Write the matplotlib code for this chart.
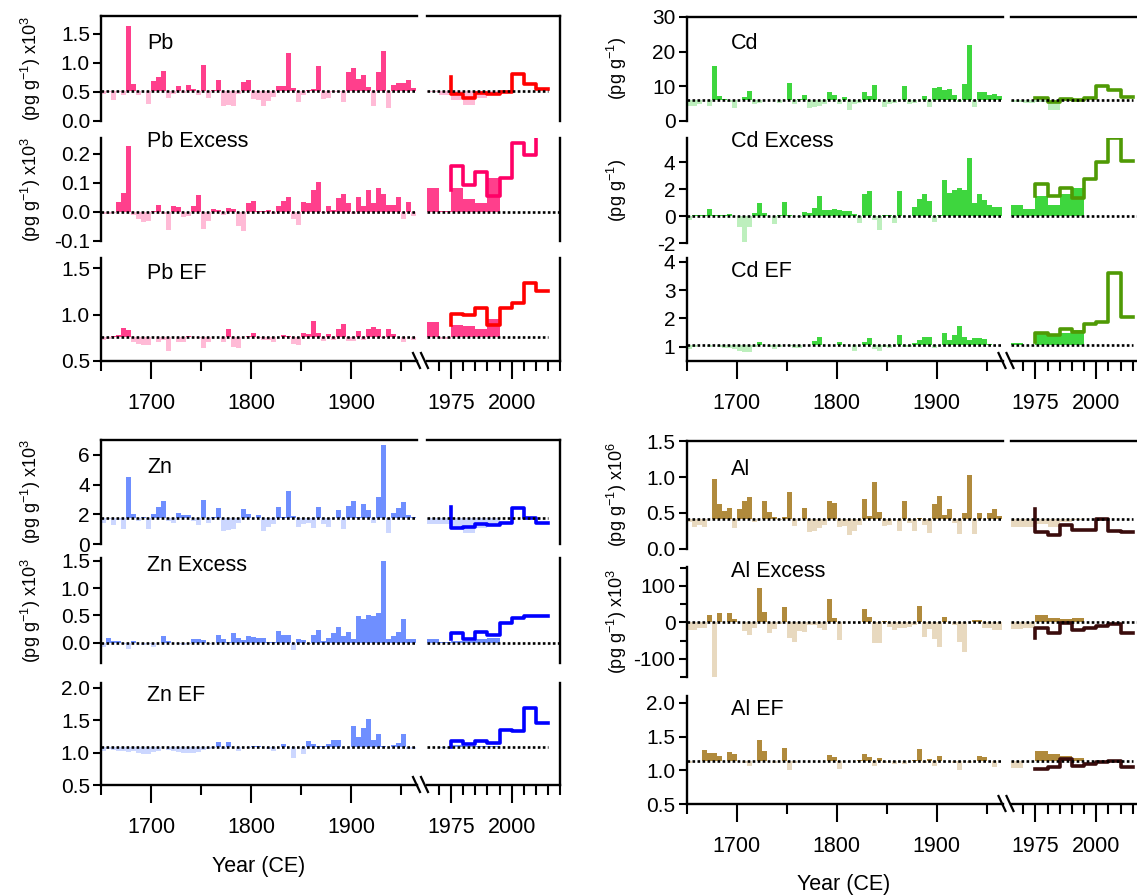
import matplotlib.pyplot as plt
from matplotlib.lines import Line2D
from matplotlib.ticker import FormatStrFormatter, FixedLocator
import numpy as np

plt.rcParams['font.family'] = ['Liberation Sans', 'DejaVu Sans']
plt.rcParams['mathtext.default'] = 'regular'
plt.rcParams['axes.unicode_minus'] = False

# sample intervals (5 yr), shared by every element
hist_start = np.arange(1650, 1965, 5)     # 63 intervals, 1650-1965
recent_start = np.arange(1965, 1995, 5)   # 6 intervals, 1965-1995
step_years = np.arange(1975, 2020, 5)     # step outline 1975-2015

# ---------------- Pb ----------------
pb_base, pbex_base, pbef_base = 0.51, 0.0, 0.76
pb = [0.46, 0.50, 0.36, 0.50, 0.45, 1.63, 0.64, 0.44, 0.52, 0.30, 0.69, 0.76, 0.87, 0.40, 0.46, 0.61,
      0.49, 0.62, 0.55, 0.45, 0.97, 0.40, 0.53, 0.71, 0.26, 0.28, 0.26, 0.46, 0.68, 0.71, 0.38, 0.36,
      0.25, 0.34, 0.41, 0.61, 0.61, 1.18, 0.57, 0.32, 0.45, 0.53, 0.55, 0.95, 0.38, 0.40, 0.50, 0.50,
      0.32, 0.85, 0.92, 0.73, 0.80, 0.59, 0.26, 0.84, 1.20, 0.23, 0.62, 0.65, 0.65, 0.71, 0.57]
pb_ex = [-0.007, -0.007, -0.005, 0.033, 0.066, 0.226, -0.01, -0.025, -0.035, -0.03, 0.005, 0.024,
         -0.007, -0.062, 0.02, 0.016, -0.018, -0.013, 0.02, 0.06, -0.059, -0.032, 0.01, 0.007, -0.01,
         0.014, 0.01, -0.047, -0.064, 0.03, 0.037, 0.005,
         0.002, 0.007, -0.007, 0.02, 0.039, 0.05, -0.024, -0.044, 0.036, 0.03, 0.077, 0.102, -0.002,
         0.02, 0.007, 0.048, 0.062, 0.03, -0.007, 0.053, 0.022, 0.076, 0.03, 0.083, 0.062, 0.025,
         0.025, 0.053, -0.024, 0.036, -0.013]
pb_ef = [0.73, 0.74, 0.77, 0.78, 0.86, 0.83, 0.71, 0.68, 0.67, 0.67, 0.76, 0.71, 0.73, 0.61, 0.76, 0.70,
         0.71, 0.77, 0.76, 0.75, 0.64, 0.70, 0.76, 0.76, 0.70, 0.84, 0.65, 0.64, 0.76, 0.77, 0.80, 0.75,
         0.73, 0.73, 0.70, 0.76, 0.78, 0.77, 0.68, 0.67, 0.80, 0.79, 0.93, 0.80, 0.72, 0.79, 0.73, 0.84,
         0.90, 0.72, 0.72, 0.82, 0.73, 0.84, 0.87, 0.85, 0.75, 0.84, 0.79, 0.76, 0.70, 0.76, 0.73]
pb_recent = [0.50, 0.45, 0.36, 0.28, 0.40, 0.45]
pb_ex_recent = [0.081, 0.003, 0.081, 0.046, 0.031, 0.117]
pb_ef_recent = [0.92, 0.74, 0.89, 0.875, 0.85, 0.95]
pb_step = [0.76, 0.47, 0.39, 0.48, 0.47, 0.505, 0.81, 0.64, 0.55]
pb_ex_step = [0.075, 0.159, 0.092, 0.138, 0.055, 0.117, 0.238, 0.198, 0.30]
pb_ef_step = [0.89, 1.01, 1.00, 1.07, 0.89, 1.07, 1.12, 1.34, 1.25]

# ---------------- Cd ----------------
cd_base, cdex_base, cdef_base = 6.1, 0.0, 1.07
cd = [4.4, 4.2, 5.0, 6.0, 4.4, 15.9, 7.1, 6.3, 5.6, 3.7, 6.0, 7.0, 8.7, 4.9, 5.3, 6.2,
      6.0, 6.1, 5.3, 6.0, 10.9, 5.0, 6.3, 7.5, 3.7, 4.1, 4.4, 4.9, 8.4, 7.4, 5.0, 6.8,
      3.1, 4.9, 5.3, 8.5, 7.3, 10.3, 6.0, 3.9, 5.0, 5.3, 6.2, 10.0, 4.9, 5.3, 6.0, 7.3,
      3.9, 9.5, 9.8, 8.9, 9.2, 7.5, 5.6, 10.6, 22.0, 4.1, 8.5, 8.5, 7.5, 7.7, 7.3]
cd_ex = [-0.3, 0.1, 0.05, 0.05, 0.54, 0.1, 0.05, 0.1, 0.17, 0.0, -0.8, -1.9, -0.8, 0.25, 0.96, 0.25,
         0.0, -0.6, 0.05, 1.04, 0.05, 0.0, -0.05, 0.3, 0.25, 0.6, 1.46, 0.42, 0.42, 0.54, 0.42, 0.37,
         0.37, 0.17, -0.52, 1.6, 1.85, -0.3, -1.0, 0.05, 0.05, -0.52, 1.85, 0.0, 0.0, 0.67, 1.23, 1.65,
         1.09, -0.44, 0.05, 2.7, 1.73, 1.95, 2.1, 1.9, 4.3, 0.96, 1.65, 1.16, 0.84, 0.67, 0.67]
cd_ef = [0.93, 0.99, 1.05, 1.05, 0.99, 1.08, 0.99, 0.95, 0.95, 0.93, 0.85, 0.81, 0.81, 1.0, 1.16, 1.05,
         0.99, 0.91, 0.99, 1.07, 1.03, 0.95, 0.95, 1.07, 1.05, 1.22, 1.36, 1.08, 1.05, 1.07, 1.16, 1.05,
         1.05, 0.87, 1.05, 1.16, 1.32, 0.93, 0.85, 0.99, 0.95, 1.07, 1.40, 0.99, 1.0, 1.13, 1.25, 1.36,
         1.34, 0.96, 1.07, 1.48, 1.25, 1.40, 1.72, 1.36, 1.25, 1.32, 1.32, 1.29, 1.1, 1.07, 1.07]
cd_recent = [5.5, 5.3, 5.6, 3.2, 5.8, 6.0]
cd_ex_recent = [0.85, 0.49, 1.46, 0.85, 1.63, 2.07]
cd_ef_recent = [1.14, 1.07, 1.47, 1.43, 1.47, 1.59]
cd_step = [6.5, 6.5, 5.4, 6.3, 6.05, 6.7, 10.2, 8.9, 7.0]
cd_ex_step = [1.46, 2.39, 1.46, 2.07, 1.34, 2.73, 3.98, 5.8, 4.07]
cd_ef_step = [1.18, 1.47, 1.41, 1.62, 1.53, 1.80, 1.86, 3.59, 2.06]

# ---------------- Zn ----------------
zn_base, znex_base, znef_base = 1.78, 0.0, 1.09
zn = [1.40, 1.67, 1.26, 1.60, 1.04, 4.48, 2.05, 1.56, 1.8, 1.04, 2.0, 2.52, 2.9, 1.56, 1.40, 2.07,
      1.94, 1.94, 1.56, 1.26, 2.97, 1.44, 1.8, 2.45, 0.88, 0.95, 1.04, 1.40, 2.34, 2.0, 1.75, 1.94,
      0.88, 1.17, 1.33, 2.5, 1.8, 3.58, 1.89, 1.17, 1.33, 1.40, 1.11, 2.52, 1.33, 1.15, 1.75, 2.27,
      1.0, 2.57, 2.9, 1.8, 2.72, 2.3, 1.44, 3.13, 6.66, 0.72, 2.07, 2.41, 2.84, 1.94, 1.85]
zn_ex = [-0.07, 0.08, 0.04, 0.04, -0.03, -0.11, 0.03, -0.01, -0.05, -0.03, -0.07, 0.0, 0.13, 0.04, 0.0,
         -0.03, -0.05, -0.03, 0.06, 0.06, 0.05, -0.03, 0.0, 0.14, 0.06, 0.02, 0.18, 0.08, 0.05, 0.12,
         0.10, 0.09,
         0.09, 0.02, 0.02, 0.21, 0.14, 0.15, -0.14, 0.07, 0.05, -0.03, 0.14, 0.23, 0.04, 0.08, 0.18,
         0.29, 0.13, 0.2, 0.06, 0.49, 0.44, 0.50, 0.49, 0.54, 1.49, 0.06, 0.12, 0.2, 0.43, 0.06, 0.06]
zn_ef = [1.03, 1.05, 1.04, 1.02, 1.02, 1.01, 1.02, 1.0, 0.98, 0.97, 1.01, 1.02, 1.08, 1.04, 1.02, 1.01,
         1.0, 0.99, 1.0, 1.01, 1.04, 1.05, 1.07, 1.16, 1.05, 1.16, 1.09, 1.02, 1.08, 1.07, 1.1, 1.1,
         1.09, 1.06, 1.02, 1.09, 1.13, 1.08, 0.92, 1.09, 0.97, 1.18, 1.13, 1.1, 1.1, 1.13, 1.19, 1.19,
         1.08, 1.09, 1.41, 1.24, 1.37, 1.52, 1.19, 1.29, 1.1, 1.09, 1.11, 1.14, 1.29, 1.06, 1.06]
zn_recent = [1.35, 1.35, 1.06, 0.72, 1.06, 1.21]
zn_ex_recent = [0.06, 0.02, 0.04, 0.04, 0.06, 0.08]
zn_ef_recent = [1.08, 1.07, 1.12, 1.10, 1.10, 1.10]
zn_step = [2.52, 1.06, 1.17, 1.35, 1.28, 1.39, 2.40, 1.73, 1.39]
zn_ex_step = [0.06, 0.17, 0.07, 0.20, 0.15, 0.37, 0.46, 0.49, 0.49]
zn_ef_step = [1.09, 1.17, 1.13, 1.18, 1.15, 1.35, 1.33, 1.68, 1.45]

# ---------------- Al ----------------
al_base, alex_base, alef_base = 0.417, 0.0, 1.14
al = [0.38, 0.30, 0.33, 0.31, 0.42, 0.97, 0.63, 0.53, 0.57, 0.29, 0.55, 0.67, 0.72, 0.38, 0.42, 0.66,
      0.52, 0.45, 0.40, 0.44, 0.79, 0.32, 0.42, 0.57, 0.23, 0.25, 0.29, 0.33, 0.66, 0.64, 0.30, 0.32,
      0.19, 0.25, 0.33, 0.69, 0.46, 0.93, 0.51, 0.32, 0.33, 0.42, 0.25, 0.66, 0.36, 0.25, 0.43, 0.33,
      0.22, 0.63, 0.73, 0.47, 0.56, 0.36, 0.21, 0.50, 1.03, 0.21, 0.50, 0.42, 0.50, 0.56, 0.46]
al_ex = [-21, -21, -16, -16, 20, -150, 25, 0, 25, 9, 0, -24, -36, -15, 95, 29,
         -30, -19, -5, 43, -44, -55, -25, -27, -7, -7, -16, -21, 65, 11, -48, 0,
         0, 0, 0, 36, 15, -57, -57, 4, -12, -21, -16, -16, -12, -7, 45, -39,
         -19, -46, -68, 15, 0, -7, -53, -82, 0, 6, 6, -15, -16, -21, -21]
al_ef = [1.10, 1.14, 1.14, 1.30, 1.26, 1.25, 1.21, 1.14, 1.27, 1.24, 1.13, 1.11, 1.07, 1.14, 1.45, 1.29,
         1.14, 1.10, 1.14, 1.33, 1.0, 1.10, 1.13, 1.14, 1.13, 1.14, 1.14, 1.14, 1.22, 1.20, 1.02, 1.14,
         1.14, 1.14, 1.15, 1.24, 1.20, 1.07, 1.18, 1.10, 1.14, 1.09, 1.14, 1.09, 1.14, 1.15, 1.32, 1.10,
         1.17, 1.07, 1.21, 1.14, 1.13, 1.10, 1.01, 1.14, 1.11, 1.14, 1.21, 1.20, 1.14, 1.05, 1.14]
al_recent = [0.30, 0.30, 0.35, 0.30, 0.38, 0.40]
al_ex_recent = [-19, -16, 20, 13, 9, 11]
al_ef_recent = [1.04, 1.14, 1.29, 1.24, 1.21, 1.18]
al_step = [0.56, 0.24, 0.20, 0.33, 0.27, 0.27, 0.42, 0.25, 0.23]
al_ex_step = [-44, -15, -30, -1, -21, -16, -10, -5, -30]
al_ef_step = [1.02, 1.02, 1.05, 1.17, 1.07, 1.10, 1.12, 1.14, 1.05]

ylab3 = r'(pg g$^{-1}$) x10$^{3}$'
ylab6 = r'(pg g$^{-1}$) x10$^{6}$'
ylab0 = r'(pg g$^{-1}$)'

groups = [
    dict(name='Pb', hx=(101, 417), rx=(427, 560), lab_x=147, ylab_x=31, xlabel=None,
         dark='#FF3F8C', light='#FFBAD6', lines=['#FF0000', '#FF0066', '#FF0000'],
         rows=[(16, 121), (138, 241), (258, 361)], text_y=[49, 147, 279],
         labels=['Pb', 'Pb Excess', 'Pb EF'], ylabels=[ylab3, ylab3, None],
         ylims=[(0, 1.81), (-0.1, 0.255), (0.5, 1.61)],
         yticks=[[0, 0.5, 1.0, 1.5], [-0.1, 0, 0.1, 0.2], [0.5, 1.0, 1.5]],
         fmts=['%.1f', '%.1f', '%.1f'],
         hist=[pb, pb_ex, pb_ef], recent=[pb_recent, pb_ex_recent, pb_ef_recent],
         steps=[pb_step, pb_ex_step, pb_ef_step], bases=[pb_base, pbex_base, pbef_base]),
    dict(name='Cd', hx=(686.5, 1002.5), rx=(1011, 1145), lab_x=731, ylab_x=617, xlabel=None,
         dark='#3ED63E', light='#BDEFBD', lines=['#4F9A05'] * 3,
         rows=[(17, 121), (138, 243), (258, 361)], text_y=[49, 147, 277],
         labels=['Cd', 'Cd Excess', 'Cd EF'], ylabels=[ylab0, ylab0, None],
         ylims=[(0, 30), (-2, 5.78), (0.5, 4.13)],
         yticks=[[0, 10, 20, 30], [-2, 0, 2, 4], [1, 2, 3, 4]], fmts=['%d', '%d', '%d'],
         hist=[cd, cd_ex, cd_ef], recent=[cd_recent, cd_ex_recent, cd_ef_recent],
         steps=[cd_step, cd_ex_step, cd_ef_step], bases=[cd_base, cdex_base, cdef_base]),
    dict(name='Zn', hx=(101, 417), rx=(427, 560), lab_x=147, ylab_x=31, xlabel=(259, 866),
         dark='#6F8FFF', light='#CCD7FF', lines=['#0000FF'] * 3,
         rows=[(440, 544), (558, 663), (683, 785)], text_y=[473, 571, 701],
         labels=['Zn', 'Zn Excess', 'Zn EF'], ylabels=[ylab3, ylab3, None],
         ylims=[(0, 7.0), (-0.37, 1.55), (0.5, 2.07)],
         yticks=[[0, 2, 4, 6], [0, 0.5, 1.0, 1.5], [0.5, 1.0, 1.5, 2.0]],
         fmts=['%d', '%.1f', '%.1f'],
         hist=[zn, zn_ex, zn_ef], recent=[zn_recent, zn_ex_recent, zn_ef_recent],
         steps=[zn_step, zn_ex_step, zn_ef_step], bases=[zn_base, znex_base, znef_base]),
    dict(name='Al', hx=(686.5, 1002.5), rx=(1011, 1145), lab_x=731, ylab_x=617, xlabel=(844, 884),
         dark='#B08A3C', light='#E8D9BF', lines=['#3A0C0C'] * 3,
         rows=[(441, 549), (567, 677), (696, 804)], text_y=[475, 577, 715],
         labels=['Al', 'Al Excess', 'Al EF'], ylabels=[ylab6, ylab3, None],
         ylims=[(0, 1.5), (-150, 152), (0.5, 2.1)],
         yticks=[[0, 0.5, 1.0, 1.5], [-100, 0, 100], [0.5, 1.0, 1.5, 2.0]],
         fmts=['%.1f', '%d', '%.1f'],
         hist=[al, al_ex, al_ef], recent=[al_recent, al_ex_recent, al_ef_recent],
         steps=[al_step, al_ex_step, al_ef_step], bases=[al_base, alex_base, alef_base]),
]

W, H = 1137, 896
fig = plt.figure(figsize=(W / 100, H / 100), dpi=100)
LW = 1.7


def add_ax(x0, x1, top, bot):
    return fig.add_axes([x0 / W, 1 - bot / H, (x1 - x0) / W, (bot - top) / H])


def bars(ax, starts, vals, base, dark, light):
    d = np.asarray(vals, float) - base
    up = d >= 0
    ax.bar(starts[up], d[up], bottom=base, width=5, align='edge', color=dark, lw=0, antialiased=False)
    ax.bar(starts[~up], d[~up], bottom=base, width=5, align='edge', color=light, lw=0, antialiased=False)


for g in groups:
    for k in range(3):
        top, bot = g['rows'][k]
        base = g['bases'][k]
        ah = add_ax(g['hx'][0], g['hx'][1], top, bot)
        ar = add_ax(g['rx'][0], g['rx'][1], top, bot)
        for a in (ah, ar):
            a.set_ylim(*g['ylims'][k])
            a.patch.set_alpha(0)
            for s in a.spines.values():
                s.set_linewidth(LW)
        ah.set_xlim(1650, 1966)
        ar.set_xlim(1965, 2020)

        bars(ah, hist_start, g['hist'][k], base, g['dark'], g['light'])
        bars(ar, recent_start, g['recent'][k], base, g['dark'], g['light'])
        ar.step(step_years, g['steps'][k], where='pre', color=g['lines'][k], lw=2.6, zorder=4)

        dots = dict(color='k', lw=1.9, ls=(0, (1, 0.9)), zorder=5)
        ah.plot([1650, 1966], [base, base], **dots)
        ar.plot([1965, 2020 if k == 1 else 2015], [base, base], **dots)

        # spines
        ah.spines['right'].set_visible(False)
        ar.spines['left'].set_visible(False)
        if k != 0:
            ah.spines['top'].set_visible(False)
            ar.spines['top'].set_visible(False)
        if k != 2:
            ah.spines['bottom'].set_visible(False)
            ar.spines['bottom'].set_visible(False)

        ah.set_yticks(g['yticks'][k])
        ah.yaxis.set_major_formatter(FormatStrFormatter(g['fmts'][k]))
        if g['name'] == 'Al' and k == 1:
            ah.yaxis.set_minor_locator(FixedLocator([-150, -50, 50, 150]))
            ah.tick_params(axis='y', which='minor', length=5, width=1.5)
        ah.tick_params(axis='y', direction='out', length=6, width=1.5, labelsize=15, pad=2)
        ar.tick_params(axis='y', left=False, right=False, labelleft=False)

        if k == 2:
            ah.set_xticks([1700, 1800, 1900])
            ah.xaxis.set_minor_locator(FixedLocator([1650, 1750, 1850, 1950]))
            ar.set_xticks([1975, 2000])
            ar.xaxis.set_minor_locator(FixedLocator(np.arange(1970, 2021, 5)))
            for a in (ah, ar):
                a.tick_params(axis='x', which='major', direction='out', length=13, width=1.5,
                              labelsize=15.5, pad=10)
                a.tick_params(axis='x', which='minor', direction='out', length=7, width=1.5)
            # axis break marks
            xr = g['hx'][1]
            for dx in (0, 8):
                fig.add_artist(Line2D([(xr - 4 + dx) / W, (xr + 3 + dx) / W],
                                      [1 - (bot - 8) / H, 1 - (bot + 7) / H],
                                      color='k', lw=1.6))
        else:
            for a in (ah, ar):
                a.tick_params(axis='x', bottom=False, labelbottom=False)

        fig.text(g['lab_x'] / W, 1 - g['text_y'][k] / H, g['labels'][k], fontsize=15.5,
                 ha='left', va='baseline')
        if g['ylabels'][k]:
            fig.text(g['ylab_x'] / W, 1 - (top + bot) / 2 / H, g['ylabels'][k], rotation=90,
                     fontsize=13, ha='center', va='center')

    if g['xlabel']:
        fig.text(g['xlabel'][0] / W, 1 - g['xlabel'][1] / H, 'Year (CE)', fontsize=15.5,
                 ha='center', va='center')

fig.savefig('out.png', dpi=100)
